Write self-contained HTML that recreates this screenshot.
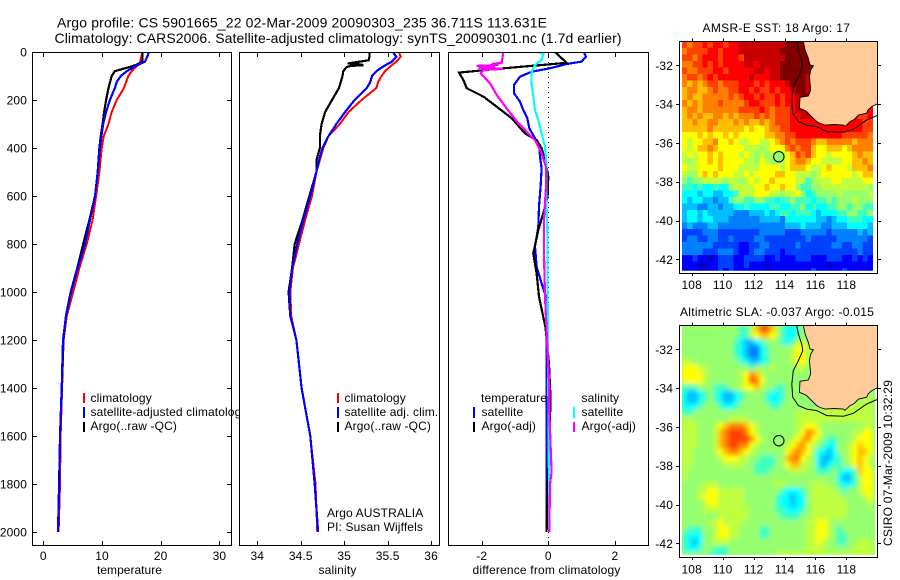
<!DOCTYPE html>
<html>
<head>
<meta charset="utf-8">
<title>Argo profile chart</title>
<style>
html,body{margin:0;padding:0;background:#fff;}
svg{display:block;font-family:"Liberation Sans",sans-serif;fill:#000;}
text{font-size:12px;letter-spacing:.12px;}
.ttl{font-size:14px;letter-spacing:0;}
.frame{fill:#fff;stroke:#000;stroke-width:1;shape-rendering:crispEdges;}
.nofill{fill:none;stroke:#000;stroke-width:1;shape-rendering:crispEdges;}
.bar{stroke-width:2;shape-rendering:crispEdges;}
</style>
</head>
<body>
<svg id="chart" xmlns="http://www.w3.org/2000/svg" width="900" height="580" viewBox="0 0 900 580">
  <defs>
    <clipPath id="clipTemp"><rect x="33" y="53" width="198" height="492"/></clipPath>
    <clipPath id="clipSal"><rect x="240" y="53" width="199" height="492"/></clipPath>
    <clipPath id="clipDiff"><rect x="449" y="53" width="199" height="492"/></clipPath>
    <clipPath id="clipSst"><rect x="680" y="42" width="197" height="231"/></clipPath>
    <clipPath id="clipSstCells"><rect x="682" y="42" width="193" height="228.7"/></clipPath>
    <clipPath id="clipSla"><rect x="680" y="326" width="197" height="231"/></clipPath>
    <clipPath id="clipSlaCells"><rect x="682" y="326" width="193" height="228.7"/></clipPath>
    <filter id="slaSmooth" x="-5%" y="-5%" width="110%" height="110%"><feGaussianBlur stdDeviation="2"/></filter>
  </defs>

  <text class="ttl" x="57" y="27.5" textLength="490" lengthAdjust="spacing">Argo profile: CS 5901665_22 02-Mar-2009 20090303_235 36.711S 113.631E</text>
  <text class="ttl" x="54.5" y="43" textLength="567" lengthAdjust="spacing">Climatology: CARS2006. Satellite-adjusted climatology: synTS_20090301.nc (1.7d earlier)</text>

  <g id="panelTemp">
    <rect class="frame" x="32.5" y="52.5" width="199" height="493"/>
    <g id="temp-lines" clip-path="url(#clipTemp)"></g>
    <g id="temp-ticks"></g>
    <text x="97" y="574" textLength="65" lengthAdjust="spacing">temperature</text>
    <g>
      <line class="bar" x1="84" x2="84" y1="393" y2="403" stroke="#f00"/>
      <text x="90.5" y="402">climatology</text>
      <line class="bar" x1="84" x2="84" y1="407" y2="418" stroke="#00f"/>
      <text x="90.5" y="416">satellite-adjusted climatology</text>
      <line class="bar" x1="84" x2="84" y1="422" y2="432" stroke="#000"/>
      <text x="90.5" y="430">Argo(..raw -QC)</text>
    </g>
  </g>

  <g id="panelSal">
    <rect class="frame" x="239.5" y="52.5" width="200" height="493"/>
    <g id="sal-lines" clip-path="url(#clipSal)"></g>
    <g id="sal-ticks"></g>
    <text x="318.5" y="574" textLength="38" lengthAdjust="spacing">salinity</text>
    <g>
      <line class="bar" x1="338" x2="338" y1="393" y2="403" stroke="#f00"/>
      <text x="344.5" y="402">climatology</text>
      <line class="bar" x1="338" x2="338" y1="407" y2="418" stroke="#00f"/>
      <text x="344.5" y="416">satellite adj. clim.</text>
      <line class="bar" x1="338" x2="338" y1="422" y2="432" stroke="#000"/>
      <text x="344.5" y="430">Argo(..raw -QC)</text>
    </g>
    <text x="327" y="517">Argo AUSTRALIA</text>
    <text x="327" y="531">PI: Susan Wijffels</text>
  </g>

  <g id="panelDiff">
    <rect class="frame" x="448.5" y="52.5" width="200" height="493"/>
    <g id="diff-lines" clip-path="url(#clipDiff)"></g>
    <g id="diff-ticks"></g>
    <text x="472.5" y="574" textLength="148" lengthAdjust="spacing">difference from climatology</text>
    <g>
      <text x="481" y="402">temperature</text>
      <line class="bar" x1="474" x2="474" y1="407" y2="418" stroke="#00f"/>
      <text x="481.5" y="416">satellite</text>
      <line class="bar" x1="474" x2="474" y1="422" y2="432" stroke="#000"/>
      <text x="481.5" y="430">Argo(-adj)</text>
      <text x="581.5" y="402">salinity</text>
      <line class="bar" x1="574" x2="574" y1="407" y2="418" stroke="#0ff"/>
      <text x="581.5" y="416">satellite</text>
      <line class="bar" x1="574" x2="574" y1="422" y2="432" stroke="#f0f"/>
      <text x="581.5" y="430">Argo(-adj)</text>
    </g>
  </g>

  <g id="mapSst">
    <text x="702.5" y="32" textLength="147.5" lengthAdjust="spacing">AMSR-E SST: 18 Argo: 17</text>
  </g>
  <g id="mapSla">
    <text x="680" y="316" textLength="194" lengthAdjust="spacing">Altimetric SLA: -0.037 Argo: -0.015</text>
  </g>
  <text transform="translate(892,546) rotate(-90)" textLength="166" lengthAdjust="spacing">CSIRO 07-Mar-2009 10:32:29</text>
</svg>

<script>
var depthTicks = [0,200,400,600,800,1000,1200,1400,1600,1800,2000];
var tempTicks = [0,10,20,30];
var salTicks = [34,34.5,35,35.5,36];
var diffTicks = [-2,0,2];
var lonTicks = [108,110,112,114,116,118];
var latTicks = [-32,-34,-36,-38,-40,-42];

var tempClimDepths = [0,40,60,80,100,125,150,200,250,300,350,400,500,600,700,800,900,1000,1100,1200,1400,1600,1800,2000];
var tempClimValues = [16.9,16.5,15.9,15.05,14.5,14.1,13.75,12.5,11.65,11.1,10.3,9.95,9.55,9.0,8.4,7.4,6.15,5.1,4.0,3.45,3.2,2.95,2.85,2.6];
var tempSatDepths = [0,20,40,60,80,100,125,150,200,250,300,350,400,500,600,700,800,900,1000,1100,1200,1400,1600,1800,2000];
var tempSatValues = [18.0,17.7,17.3,15.6,14.2,13.2,12.5,12.2,11.35,10.7,10.2,9.9,9.65,9.27,8.8,7.95,7.1,5.86,4.72,3.87,3.35,3.13,2.85,2.73,2.5];
var tempArgoDepths = [0,40,50,60,70,80,100,150,200,250,300,350,400,500,600,700,800,900,1000,1100,1200,1400,1600,1800,2000];
var tempArgoValues = [16.9,16.9,16.2,15.05,13.6,12.2,11.65,11.1,10.7,10.35,10.1,9.8,9.55,9.27,8.8,7.85,6.8,5.8,4.67,3.85,3.4,3.15,2.85,2.7,2.5];

var salClimDepths = [0,20,40,60,80,100,125,150,200,250,300,350,400,450,500,600,700,800,900,1000,1100,1200,1400,1600,1800,2000];
var salClimValues = [35.63,35.65,35.60,35.53,35.47,35.43,35.39,35.37,35.2,35.05,34.95,34.82,34.76,34.72,34.68,34.63,34.55,34.48,34.41,34.38,34.39,34.45,34.51,34.61,34.67,34.69];
var salSatDepths = [0,20,40,60,80,100,125,150,200,250,300,350,400,450,500,600,700,800,900,1000,1100,1200,1400,1600,1800,2000];
var salSatValues = [35.56,35.60,35.55,35.45,35.37,35.32,35.30,35.26,35.12,35.01,34.91,34.82,34.75,34.71,34.68,34.61,34.53,34.46,34.40,34.37,34.38,34.45,34.51,34.61,34.66,34.70];
var salArgoDepths = [0,20,35,40,48,52,55,58,62,70,80,100,150,200,250,300,350,400,450,500,600,700,800,900,1000,1100,1200,1400,1600,1800,2000];
var salArgoValues = [35.29,35.29,35.28,35.18,35.04,35.2,35.22,35.08,35.03,35.01,34.99,34.98,34.94,34.86,34.78,34.74,34.72,34.72,34.68,34.68,34.6,34.52,34.43,34.4,34.36,34.38,34.45,34.51,34.61,34.66,34.7];

var diffTempSatDepths = [0,19,40,50,68,82,103,137,172,207,242,276,318,360,394,436,485,561,644,728,811,894,964,1019,1100,1400,2000];
var diffTempSatValues = [1.07,1.13,1.0,0.55,0.05,-0.5,-0.85,-1.03,-1.03,-0.85,-0.75,-0.63,-0.57,-0.4,-0.27,-0.25,-0.2,-0.23,-0.28,-0.3,-0.4,-0.35,-0.2,-0.07,-0.05,-0.05,-0.05];
var diffSalSatDepths = [0,10,33,54,82,130,186,242,283,339,394,478,644,783,1019,1400,2000];
var diffSalSatValues = [-0.3,-0.15,-0.2,-0.4,-0.5,-0.5,-0.45,-0.4,-0.3,-0.2,-0.1,-0.05,-0.05,-0.02,-0.02,0,0.03];
var diffTempArgoDepths = [0,45,50,68,86,117,151,186,228,276,339,367,401,450,519,603,672,742,839,922,1019,1150,1300,1450,1600,1700,2000];
var diffTempArgoValues = [0.2,0.55,0.15,-1.35,-2.68,-2.55,-2.45,-1.95,-1.55,-1.1,-0.7,-0.35,-0.2,-0.1,0,-0.02,-0.15,-0.3,-0.45,-0.35,-0.28,-0.08,0.02,0.07,0.03,0,-0.05];
var diffSalArgoDepths = [0,45,50,54,58,62,66,70,75,89,130,179,235,297,367,422,478,561,700,839,1019,1400,1500,1750,1800,2000];
var diffSalArgoValues = [-1.35,-1.4,-1.7,-1.5,-2.15,-1.6,-2.1,-1.35,-1.95,-2.03,-1.75,-1.55,-1.25,-0.9,-0.4,-0.2,-0.07,-0.07,-0.13,-0.13,-0.1,0.03,0.03,0.1,0.05,0.03];

var sstRows = [
"cbccdcddcd deeeeeeeee ffffffffff fffffff",
"bccccddcdd deeeeeeeef ffffffffff fffffff",
"ccbcdddcdd dceeeeeeee ffffffffff fffffff",
"bbccdcdcdd ddeedeeeef ffffffffff fffffff",
"cbbcccddcd ddddeedeef ffffffffff fffffff",
"bccbcdcddd dddedddeef ffffeeefff fffffff",
"bababccbcc cdddcdcddd efffeeeddd ddddddd",
"abbaabcbbc cddcdccdcd deffeeeddd ddddddd",
"abaabbbbbc bcddcdccdc ddeffeeddd ddddddd",
"bababbbcbb bbcddcccdc ddefdddddd ddddddd",
"abbabbbbbb bccccdcbcc cdeeeddddd dddddcd",
"ababaabbab abbbcbcbcc cddeeddddd ddddccd",
"aabaabbaaa babaababcc cddddddddd dddddcc",
"aaaaabaaaa aa9a99abbc cddddddddd dddddcc",
"999a9a99a9 a99999aabb ccdddddddd dcccccb",
"9899aab99a 98899889ab cbcccbaabb bbbabbb",
"989aaba999 9988878999 bcbcca99aa a9abbbb",
"89899a9a99 9898787897 9acbca9989 999abaa",
"87899a9a99 9988798778 9abba99888 899aaba",
"9889999a99 9888899998 9aaa9889a9 998aaab",
"8779a9a999 88989999aa 9988878999 99989aa",
"7677888878 8789899a99 9988678889 9888899",
"6656556557 888899a99a 9976677888 8888887",
"5554554455 6888999887 8897567777 8777778",
"5455443446 7766776656 6766656676 7778777",
"4443344344 5565555665 5667565566 7767766",
"4554544444 3334445456 6566654555 6677667",
"4554554443 3333344443 5555554434 5566655",
"3433344333 3333333333 4445444334 4455554",
"2222333222 2222233333 2223333323 3333434",
"2332233223 2222332222 2222322222 3333332",
"3333332222 2112233222 2232222223 3223322",
"3333222333 2112332221 2222222222 2222322",
"1121101222 1122221121 1122211122 2112121",
"1110011222 1121110111 1111111101 1111111",
"0110011212 1111110011 1111121111 1211111"
];

var slaRows = [
"7777777777 7668acca86 5567777777 7777777",
"7777777777 76689aa986 5567777777 7777777",
"7777777777 6544567776 5688777777 7777777",
"7777777777 6543356777 7899877777 7777777",
"7777777777 6543356777 7899877777 7777777",
"8877777777 7654456777 7899877777 7777777",
"9998877777 7776777877 7788777777 7777777",
"9999877777 789ba87777 7777777777 7777777",
"9999877777 789cb97777 7777777777 7777777",
"6667776667 7899a87766 7777777777 7777777",
"5445676544 5677776556 7777777777 7777777",
"5445676544 5677776556 7777777777 7777788",
"5556777655 6777777667 7777777778 8888888",
"6677777777 7777777777 7788888888 8888888",
"8877777778 8887777777 7788888888 8888888",
"88877789ab bba9877777 7788998777 7777788",
"8887778abc ccb9877777 7789ba9777 7778899",
"8887778abc cccb987777 789ab98766 7778999",
"8887778abc cbb9877777 89ab987655 7789a99",
"88777789ab ba98777777 9aba975545 7789aa9",
"8877777899 9887766677 abb9875445 6789a98",
"8877777788 8877666677 9aa8875456 6779a98",
"8777777777 7777666777 7888776667 6556a99",
"8777777777 7777777777 7777777777 5446899",
"7777888777 7777777788 7777788877 6556899",
"7778899888 8877777776 5556788888 7677899",
"7778999888 8877777765 5455788888 8777789",
"7777899888 8877777765 5455788888 8877778",
"7777888888 8887777766 5556788888 8877777",
"7777777888 8887777776 6667788888 8877777",
"7777788988 8877777777 7777889987 7777777",
"7666778998 8777766777 7777889987 6777777",
"6555778998 8777766777 7777889987 6677777",
"6545778887 7777777777 7777889877 6677888",
"6556776667 7777777777 7777888877 7778888",
"7777765667 7777777788 8888888888 8888888"
];

var coastLons = [115.22,115.33,115.54,115.65,115.87,115.69,115.61,115.69,115.54,115.0,114.96,115.22,115.42,115.65,116.08,116.3,116.62,117.2,117.81,117.9,118.24,118.5,118.78,119.31,119.4,119.64,120.0];
var coastLats = [-30.78,-31.21,-31.64,-31.98,-32.03,-32.24,-32.58,-33.27,-33.58,-33.65,-34.22,-34.30,-34.38,-34.56,-34.90,-35.0,-35.08,-35.05,-35.08,-35.15,-34.90,-34.8,-34.56,-34.47,-34.3,-34.13,-33.99];
var shelfLons = [114.79,114.90,115.11,115.18,114.90,114.57,114.47,114.53,114.90,115.44,116.08,116.73,117.81,118.45,119.31,120.0];
var shelfLats = [-30.78,-31.21,-31.73,-32.07,-32.58,-33.10,-33.79,-34.47,-34.90,-35.08,-35.16,-35.42,-35.45,-35.30,-34.82,-34.58];
var argoLon = 113.631;
var argoLat = -36.711;
var argoSstLevel = "7";

var SVGNS = "http://www.w3.org/2000/svg";
var jet = {"0":"#0000c8","1":"#0000ff","2":"#0040ff","3":"#0080ff","4":"#00beff","5":"#00ffff","6":"#40ffbe","7":"#96ff6e","8":"#beff40","9":"#ffff00","a":"#ffbe00","b":"#ff8000","c":"#ff4000","d":"#ff0000","e":"#c80000","f":"#800000"};

function depthY(d){ return 52 + d*0.24; }
function tempX(v){ return 43.3 + v*5.87; }
function salX(v){ return 257.3 + (v-34)*86.9; }
function diffX(v){ return 548.3 + v*33.3; }
function lonX(lon){ return 691.7 + (lon-108)*15.47; }
function sstLatY(lat){ return 65.3 + (-32-lat)*19.4; }
function slaLatY(lat){ return 349.3 + (-32-lat)*19.4; }

function make(tag, parent){
  var el = document.createElementNS(SVGNS, tag);
  parent.appendChild(el);
  return el;
}
function setA(el, k, v){ el.setAttribute(k, v); }

function drawProfile(parent, depths, values, xFn, color, width, name){
  var pts = [];
  for (var i=0;i<depths.length;i++){ pts.push(xFn(values[i]).toFixed(1)+","+depthY(depths[i]).toFixed(1)); }
  var el = make("polyline", parent);
  
  
  setA(el,"points",pts.join(" "));
  setA(el,"fill","none");
  setA(el,"stroke",color);
  setA(el,"stroke-width",width);
  setA(el,"shape-rendering","crispEdges");
}

function tickLine(parent,x1,y1,x2,y2){
  var el = make("line", parent);
  
  
  setA(el,"x1",x1);setA(el,"y1",y1);setA(el,"x2",x2);setA(el,"y2",y2);
  setA(el,"stroke","#000");setA(el,"shape-rendering","crispEdges");
}
function tickLabel(parent,str,x,y,anchor){
  var el = make("text", parent);
  
  
  setA(el,"x",x);setA(el,"y",y);setA(el,"text-anchor",anchor);
  el.textContent = str;
}

function panelXTicks(parent, ticks, xFn){
  ticks.forEach(function(t){
    var x = Math.round(xFn(t))+0.5;
    tickLine(parent,x,53,x,57);
    tickLine(parent,x,541,x,545);
    tickLabel(parent,String(t),xFn(t),560,"middle");
  });
}

/* temperature panel */
var gT = document.getElementById("temp-lines");
drawProfile(gT,tempClimDepths,tempClimValues,tempX,"#f00",2,"temperature-climatology-line");
drawProfile(gT,tempArgoDepths,tempArgoValues,tempX,"#000",2.2,"temperature-argo-line");
drawProfile(gT,tempSatDepths,tempSatValues,tempX,"#00f",2.2,"temperature-satellite-line");
var gTT = document.getElementById("temp-ticks");
panelXTicks(gTT,tempTicks,tempX);
depthTicks.forEach(function(d){
  var y = Math.round(depthY(d))+0.5;
  if(d>0){
    tickLine(gTT,33,y,37,y);
    tickLine(gTT,227,y,231,y);
  }
  tickLabel(gTT,String(d),27,depthY(d)+4.5,"end");
});

/* salinity panel */
var gS = document.getElementById("sal-lines");
drawProfile(gS,salClimDepths,salClimValues,salX,"#f00",2,"salinity-climatology-line");
drawProfile(gS,salArgoDepths,salArgoValues,salX,"#000",2.2,"salinity-argo-line");
drawProfile(gS,salSatDepths,salSatValues,salX,"#00f",2.2,"salinity-satellite-line");
panelXTicks(document.getElementById("sal-ticks"),salTicks,salX);

/* difference panel */
var gD = document.getElementById("diff-lines");
var zero = make("line", gD);


setA(zero,"x1",diffX(0));setA(zero,"x2",diffX(0));setA(zero,"y1",52);setA(zero,"y2",545);
setA(zero,"stroke","#000");setA(zero,"stroke-dasharray","1 4");setA(zero,"shape-rendering","crispEdges");
drawProfile(gD,diffTempSatDepths,diffTempSatValues,diffX,"#00f",2.2,"difference-temperature-satellite-line");
drawProfile(gD,diffTempArgoDepths,diffTempArgoValues,diffX,"#000",2.2,"difference-temperature-argo-line");
drawProfile(gD,diffSalSatDepths,diffSalSatValues,diffX,"#0ff",2.2,"difference-salinity-satellite-line");
drawProfile(gD,diffSalArgoDepths,diffSalArgoValues,diffX,"#f0f",2.2,"difference-salinity-argo-line");
panelXTicks(document.getElementById("diff-ticks"),diffTicks,diffX);

/* maps */
function drawMap(groupId, rows, latY, clipFrame, clipCells, frameTop, frameBottom, prefix, circleFill, labelY, smooth){
  var g = document.getElementById(groupId);
  var bg = make("rect", g);
  
  
  setA(bg,"x",679.5);setA(bg,"y",frameTop);setA(bg,"width",198);setA(bg,"height",frameBottom-frameTop);setA(bg,"fill","#fff");

  var wrap = make("g", g);
  
  
  setA(wrap,"clip-path","url(#"+clipCells+")");
  if (smooth){
    var under = make("rect", wrap);
    
    
    setA(under,"x",682);setA(under,"y",frameTop);setA(under,"width",193);setA(under,"height",frameBottom-frameTop);setA(under,"fill",jet["7"]);
  }
  var cells = make("g", wrap);
  
  
  if (smooth){ setA(cells,"filter","url(#slaSmooth)"); }
  setA(cells,"shape-rendering","crispEdges");
  var lon0 = 107.37, lat0 = -30.78, step = 1/3;
  rows.forEach(function(rawRow, j){
    var row = rawRow.replace(/ /g,"");
    for (var i=0;i<37;i++){
      var ch = row.charAt(i) || row.charAt(row.length-1);
      var r = make("rect", cells);
      
      
      var x0 = lonX(lon0+i*step), x1 = lonX(lon0+(i+1)*step);
      var y0 = latY(lat0-j*step), y1 = latY(lat0-(j+1)*step);
      setA(r,"x",x0.toFixed(2));setA(r,"y",y0.toFixed(2));
      setA(r,"width",(x1-x0+0.4).toFixed(2));setA(r,"height",(y1-y0+0.4).toFixed(2));
      setA(r,"fill",jet[ch]);
    }
  });

  var over = make("g", g);
  
  
  setA(over,"clip-path","url(#"+clipFrame+")");
  var landPts = [];
  coastLons.forEach(function(lon,i){ landPts.push(lonX(lon).toFixed(1)+","+latY(coastLats[i]).toFixed(1)); });
  landPts.push(lonX(120.1).toFixed(1)+","+latY(coastLats[coastLats.length-1]).toFixed(1));
  landPts.push(lonX(120.1).toFixed(1)+","+latY(-30.5).toFixed(1));
  landPts.push(lonX(coastLons[0]).toFixed(1)+","+latY(-30.5).toFixed(1));
  var land = make("polygon", over);
  
  
  setA(land,"points",landPts.join(" "));
  setA(land,"fill","#ffcc99");
  setA(land,"stroke","#000");setA(land,"stroke-width",0.9);

  var shelfPts = [];
  shelfLons.forEach(function(lon,i){ shelfPts.push(lonX(lon).toFixed(1)+","+latY(shelfLats[i]).toFixed(1)); });
  var shelf = make("polyline", over);
  
  
  setA(shelf,"points",shelfPts.join(" "));
  setA(shelf,"fill","none");setA(shelf,"stroke","#000");setA(shelf,"stroke-width",1);

  var c = make("circle", g);
  
  
  setA(c,"cx",lonX(argoLon));setA(c,"cy",latY(argoLat));setA(c,"r",5.2);
  setA(c,"fill",circleFill);setA(c,"stroke","#000");setA(c,"stroke-width",1);

  var frame = make("rect", g);
  
  
  setA(frame,"class","nofill");
  setA(frame,"x",679.5);setA(frame,"y",Math.floor(frameTop)+0.5);setA(frame,"width",198);setA(frame,"height",Math.round(frameBottom-frameTop));

  lonTicks.forEach(function(t){
    var x = Math.round(lonX(t))+0.5;
    tickLine(g,x,frameTop-3,x,frameTop);
    tickLine(g,x,frameBottom,x,frameBottom+3);
    tickLabel(g,String(t),lonX(t),labelY,"middle");
  });
  latTicks.forEach(function(t){
    var y = Math.round(latY(t))+0.5;
    tickLine(g,676,y,680,y);
    tickLine(g,877,y,881,y);
    tickLabel(g,String(t),673,latY(t)+4.5,"end");
  });
}
drawMap("mapSst",sstRows,sstLatY,"clipSst","clipSstCells",41.5,273,"sst",jet[argoSstLevel],289,false);
drawMap("mapSla",slaRows,slaLatY,"clipSla","clipSlaCells",325.5,557,"sla","none",573.5,true);
</script>
</body>
</html>
